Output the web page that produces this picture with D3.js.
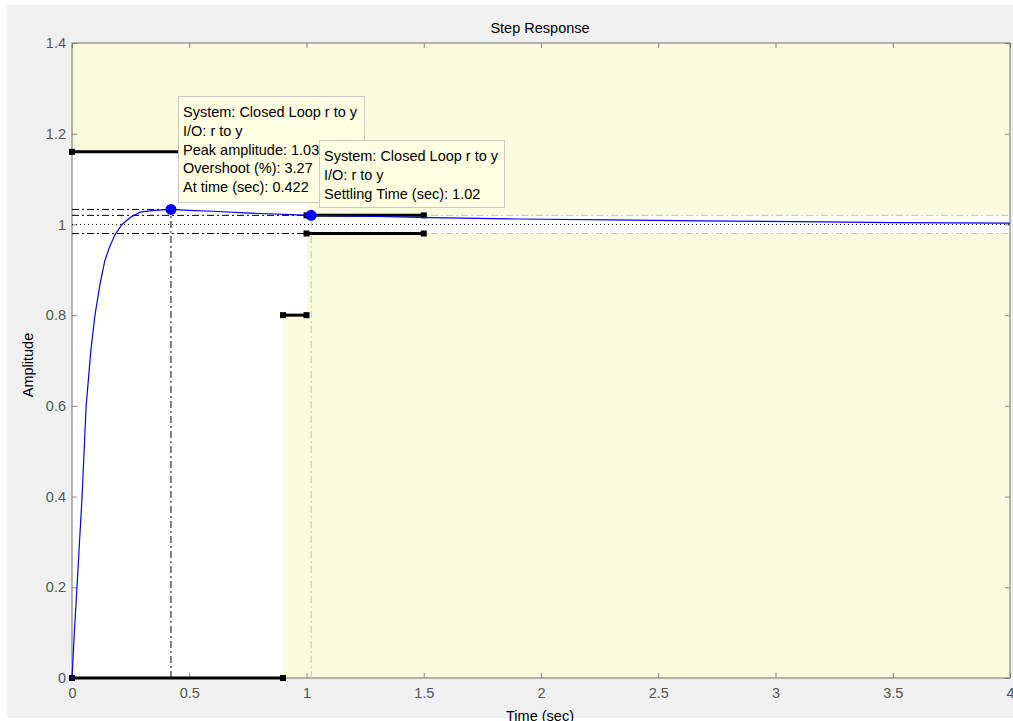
<!DOCTYPE html>
<html>
<head>
<meta charset="utf-8">
<script src="https://cdn.jsdelivr.net/npm/d3@7"></script>
<style>
    body { margin: 0; background: #ffffff; }
    svg text { font-family: "Liberation Sans", Arial, sans-serif; }
</style>
</head>
<body>
<div id="chart"></div>
<script>
// step response samples
const timeValues = [0, 0.01, 0.021, 0.032, 0.043, 0.06, 0.08, 0.098, 0.12, 0.14, 0.16, 0.183, 0.213, 0.25, 0.29, 0.35, 0.422, 0.5, 0.6, 0.76, 1.02, 1.25, 1.53, 1.9, 2.3, 2.68, 3.1, 3.5, 4.0];
const amplitudeValues = [0, 0.1, 0.198, 0.3, 0.4, 0.597, 0.72, 0.8, 0.87, 0.92, 0.95, 0.977, 1.0, 1.016, 1.027, 1.031, 1.033, 1.031, 1.029, 1.025, 1.02, 1.018, 1.015, 1.012, 1.01, 1.008, 1.006, 1.004, 1.003];

const xTicks = [0, 0.5, 1, 1.5, 2, 2.5, 3, 3.5, 4];
const yTicks = [0, 0.2, 0.4, 0.6, 0.8, 1, 1.2, 1.4];

const peakPoint = {t: 0.422, y: 1.033};
const settlingPoint = {t: 1.02, y: 1.02};
const steadyState = 1.0;
const settlingBand = [0.98, 1.02];

// design constraint segments [t1, y1, t2, y2]
const boundSegments = [
    [0, 1.16, 1.0, 1.16],
    [1.0, 1.02, 1.5, 1.02],
    [0, 0, 0.9, 0],
    [0.9, 0.8, 1.0, 0.8],
    [1.0, 0.98, 1.5, 0.98]
];
const allowedRegion = [[0, 0], [0.9, 0], [0.9, 0.8], [1.0, 0.8], [1.0, 0.98], [4, 0.98], [4, 1.02], [1.0, 1.02], [1.0, 1.16], [0, 1.16]];

const peakTipLines = ["System: Closed Loop r to y", "I/O: r to y", "Peak amplitude: 1.03", "Overshoot (%): 3.27", "At time (sec): 0.422"];
const settleTipLines = ["System: Closed Loop r to y", "I/O: r to y", "Settling Time (sec): 1.02"];

class StepResponseD3 {
    margin = {top: 43, right: 3, bottom: 43, left: 72};
    width = 1013;
    height = 721;

    constructor(el) {
        this.el = el;
    }

    create() {
        this.svg = d3.select(this.el)
            .append("svg")
            .attr("width", this.width)
            .attr("height", this.height);

        // figure background
        this.svg.append("rect")
            .attr("x", 7).attr("y", 5)
            .attr("width", this.width - 7).attr("height", 713)
            .attr("fill", "#f0f0f0");

        this.x = d3.scaleLinear().domain([0, 4]).range([this.margin.left, this.width - this.margin.right]);
        this.y = d3.scaleLinear().domain([0, 1.4]).range([this.height - this.margin.bottom, this.margin.top]);
    }

    render() {
        const x = this.x, y = this.y;
        const fontSize = "14.5px";

        // constraint (yellow) background with allowed region in white
        this.svg.append("rect")
            .attr("x", x(0)).attr("y", y(1.4))
            .attr("width", x(4) - x(0)).attr("height", y(0) - y(1.4))
            .attr("fill", "#fafadc");
        this.svg.append("path")
            .attr("d", d3.line().x(d => x(d[0])).y(d => y(d[1]))(allowedRegion) + "Z")
            .attr("fill", "#ffffff");

        // ticks (inside) and labels
        const bottom = this.svg.append("g")
            .attr("transform", `translate(0,${y(0)})`)
            .call(d3.axisBottom(x).tickValues(xTicks).tickSizeInner(-5).tickSizeOuter(0).tickPadding(10).tickFormat(d => String(d)));
        const left = this.svg.append("g")
            .attr("transform", `translate(${x(0)},0)`)
            .call(d3.axisLeft(y).tickValues(yTicks).tickSizeInner(-5).tickSizeOuter(0).tickPadding(6).tickFormat(d => String(d)));
        const top = this.svg.append("g")
            .attr("transform", `translate(0,${y(1.4)})`)
            .call(d3.axisTop(x).tickValues(xTicks).tickSizeInner(-5).tickSizeOuter(0).tickFormat(""));
        const right = this.svg.append("g")
            .attr("transform", `translate(${x(4)},0)`)
            .call(d3.axisRight(y).tickValues(yTicks).tickSizeInner(-5).tickSizeOuter(0).tickFormat(""));

        [bottom, left, top, right].forEach(g => {
            g.select(".domain").remove();
            g.selectAll(".tick line").attr("stroke", "#8a8a8a");
            g.selectAll(".tick text")
                .attr("fill", "#555555")
                .style("font-size", fontSize)
                .style("font-family", "'Liberation Sans', Arial, sans-serif");
        });

        // axes box
        this.svg.append("rect")
            .attr("x", x(0)).attr("y", y(1.4))
            .attr("width", x(4) - x(0)).attr("height", y(0) - y(1.4))
            .attr("fill", "none")
            .attr("stroke", "#6e6e6e")
            .attr("stroke-width", 1);

        const dashDot = "7,3,2,3";

        // settling band lines, gray part to the right
        settlingBand.forEach(v => {
            this.svg.append("line")
                .attr("x1", x(settlingPoint.t)).attr("x2", x(4))
                .attr("y1", y(v)).attr("y2", y(v))
                .attr("stroke", "#c4c4b0").attr("stroke-dasharray", dashDot);
        });
        this.svg.append("line")
            .attr("x1", x(settlingPoint.t)).attr("x2", x(settlingPoint.t))
            .attr("y1", y(0)).attr("y2", y(settlingPoint.y))
            .attr("stroke", "#c4c4b0").attr("stroke-dasharray", dashDot);

        // steady state dotted line
        this.svg.append("line")
            .attr("x1", x(0)).attr("x2", x(4))
            .attr("y1", y(steadyState)).attr("y2", y(steadyState))
            .attr("stroke", "#000").attr("stroke-dasharray", "1,3");

        // black dash-dot lines up to the settling time
        settlingBand.forEach(v => {
            this.svg.append("line")
                .attr("x1", x(0)).attr("x2", x(settlingPoint.t))
                .attr("y1", y(v)).attr("y2", y(v))
                .attr("stroke", "#000").attr("stroke-dasharray", dashDot);
        });

        // peak lines
        this.svg.append("line")
            .attr("x1", x(0)).attr("x2", x(peakPoint.t))
            .attr("y1", y(peakPoint.y)).attr("y2", y(peakPoint.y))
            .attr("stroke", "#000").attr("stroke-dasharray", dashDot);
        this.svg.append("line")
            .attr("x1", x(peakPoint.t)).attr("x2", x(peakPoint.t))
            .attr("y1", y(0)).attr("y2", y(peakPoint.y))
            .attr("stroke", "#000").attr("stroke-dasharray", dashDot);

        // constraint bounds
        this.svg.selectAll(".bound")
            .data(boundSegments)
            .join("line")
            .attr("class", "bound")
            .attr("x1", d => x(d[0])).attr("y1", d => y(d[1]))
            .attr("x2", d => x(d[2])).attr("y2", d => y(d[3]))
            .attr("stroke", "#000")
            .attr("stroke-width", 3);
        const ends = boundSegments.flatMap(d => [[d[0], d[1]], [d[2], d[3]]]);
        this.svg.selectAll(".bound-end")
            .data(ends)
            .join("rect")
            .attr("class", "bound-end")
            .attr("x", d => x(d[0]) - 3).attr("y", d => y(d[1]) - 3)
            .attr("width", 6).attr("height", 6)
            .attr("fill", "#000");

        // response curve
        const points = timeValues.map((t, i) => [t, amplitudeValues[i]]);
        this.svg.append("path")
            .attr("d", d3.line().x(d => x(d[0])).y(d => y(d[1]))(points))
            .attr("fill", "none")
            .attr("stroke", "#0000ff")
            .attr("stroke-width", 1.2);

        // markers
        [peakPoint, settlingPoint].forEach(p => {
            this.svg.append("circle")
                .attr("cx", x(p.t)).attr("cy", y(p.y))
                .attr("r", 5.5)
                .attr("fill", "#0000ff");
        });

        // data tips
        this.drawTip(178, 96, 186, 106, peakTipLines, fontSize);
        this.drawTip(319, 140, 185, 67, settleTipLines, fontSize);

        // titles
        this.svg.append("text")
            .attr("x", 540).attr("y", 33)
            .attr("text-anchor", "middle")
            .style("font-size", fontSize)
            .text("Step Response");
        this.svg.append("text")
            .attr("x", 540).attr("y", 721)
            .attr("text-anchor", "middle")
            .style("font-size", fontSize)
            .text("Time (sec)");
        this.svg.append("text")
            .attr("transform", "translate(33,365) rotate(-90)")
            .attr("text-anchor", "middle")
            .style("font-size", fontSize)
            .text("Amplitude");
    }

    drawTip(left, top, w, h, lines, fontSize) {
        const g = this.svg.append("g");
        g.append("rect")
            .attr("x", left + 0.5).attr("y", top + 0.5)
            .attr("width", w).attr("height", h)
            .attr("fill", "#ffffe1")
            .attr("stroke", "#c8c8c8");
        g.selectAll("text")
            .data(lines)
            .join("text")
            .attr("x", left + 5)
            .attr("y", (d, i) => top + 21 + i * 18.8)
            .style("font-size", fontSize)
            .attr("fill", "#000")
            .text(d => d);
    }
}

const chart = new StepResponseD3(document.getElementById("chart"));
chart.create();
chart.render();
</script>
</body>
</html>
